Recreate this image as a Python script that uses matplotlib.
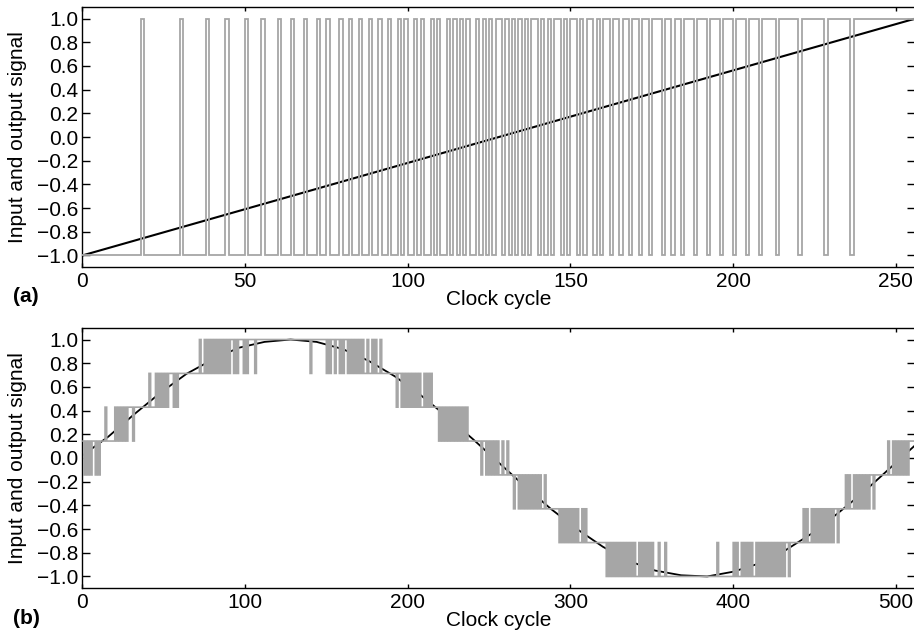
"""
Sigma-delta modulator demo chart.
(a) 1-bit output for a slow ramp input, (b) 3-bit output for one sine period.
"""

import matplotlib
matplotlib.use("Agg")
import matplotlib.pyplot as plt
import numpy as np


GREY = "#a6a6a6"
FONT = "Liberation Sans"
FS = 15

# ------------------- panel (a) data

ramp_cycles = [0, 256]
ramp_values = [-1.0, 1.0]
n_cycles_a = 256
half_a = 128

# cycles where the 1-bit output is at +1 while the ramp is below zero
ones_a = [18, 30, 38, 44, 50, 55, 60, 64, 68, 72, 75, 79, 82, 85, 88, 91,
          94, 97, 99, 102, 104, 107, 109, 112, 114, 116, 118, 121, 123,
          125, 127]
# cycles where the output drops to -1 once the ramp is above zero
zeros_a = [129, 131, 133, 135, 137, 140, 142, 144, 147, 149, 152, 154, 157,
           159, 162, 165, 168, 171, 174, 178, 181, 184, 188, 192, 196, 200,
           204, 208, 213, 220, 228, 236]

# ------------------- panel (b) data

sine_cycles = [0, 16, 32, 48, 64, 80, 96, 112, 128, 144, 160, 176, 192,
               208, 224, 240, 256, 272, 288, 304, 320, 336, 352, 368, 384,
               400, 416, 432, 448, 464, 480, 496, 512]
sine_values = [0.02, 0.18, 0.37, 0.55, 0.71, 0.83, 0.93, 0.98, 1.00, 0.98,
               0.92, 0.82, 0.69, 0.53, 0.35, 0.16, -0.04, -0.24, -0.43,
               -0.60, -0.75, -0.87, -0.95, -0.99, -1.00, -0.96, -0.89,
               -0.78, -0.64, -0.47, -0.29, -0.09, 0.11]

quant_levels = [-1.0, -0.714, -0.429, -0.143, 0.143, 0.429, 0.714, 1.0]

# quantiser level index (0..7) for every clock cycle
level_index_b = (
    "434343" "44" "3" "4" "3" "444" "5" "44444"                      # 0-19
    "5454545455" "5" "4" "555555555" "6"                             # 20-41
    "555" "6565656566" "6" "5" "6" "5" "6666666666666"               # 42-71
    "7" "66" "7" "6" "7" "6767676767" "6" "7" "6" "77" "6" "7" "6"   # 72-95
    "777" "6" "7" "6" "7777" "6"                                     # 96-106
    "7777777777" "7777777777" "7777777777" "777"                     # 107-139
    "6" "777777777" "6" "7" "6" "77" "6" "77" "6" "7" "6" "77" "6"   # 140-163
    "7" "676767676" "6" "7" "66" "7" "6" "7" "66" "7" "666666666"    # 164-192
    "5" "66" "5" "6" "5656565656" "55" "6" "5" "6" "5" "6" "5555"    # 193-218
    "4" "5" "4" "5" "454545454545" "4" "5" "44444444"                # 219-244
    "3" "44" "3" "4" "3434343" "3" "4" "33" "4" "333"                # 245-264
    "2" "33" "2" "3" "2323232323" "2" "3" "22" "3" "22222222"        # 265-292
    "1" "2" "1" "2121212121" "1" "2" "1" "2" "111111111111"          # 293-321
    "0101" "010101010101" "0" "1" "00" "1" "01010101" "000" "1"      # 322-354
    "000" "1" "0000000000" "0000000000" "0000000000" "0"             # 355-389
    "1" "000000000" "1" "0" "1" "00" "1" "0" "1" "0" "1" "0" "1"     # 390-411
    "00" "101010101010" "1" "0" "1" "0" "1" "0" "11" "0" "11111111"  # 412-442
    "2" "1" "2" "11" "2121212121" "2" "1" "2" "1" "22" "1" "2222"    # 443-468
    "3" "2" "3" "22" "3232323232" "33" "2" "33333333"                # 469-494
    "4" "33" "4" "3" "4" "3434343" "4444"                            # 495-511
)

yticks = [-1.0, -0.8, -0.6, -0.4, -0.2, 0.0, 0.2, 0.4, 0.6, 0.8, 1.0]
xticks_a = [0, 50, 100, 150, 200, 250]
xticks_b = [0, 100, 200, 300, 400, 500]


def output_a():
    """Expand the pulse lists into one value per clock cycle."""
    out = []
    for n in range(n_cycles_a):
        if n < half_a:
            out.append(1.0 if n in ones_a else -1.0)
        else:
            out.append(-1.0 if n in zeros_a else 1.0)
    return out


def output_b():
    return [quant_levels[int(ch)] for ch in level_index_b]


def style_axes(ax, xticks, xmax):
    ax.set_xlim(0, xmax)
    ax.set_ylim(-1.1, 1.1)
    ax.set_xticks(xticks)
    ax.set_yticks(yticks)
    ax.set_yticklabels([f"{v:.1f}".replace("-", "\u2212") for v in yticks])
    ax.tick_params(direction="in", top=True, right=True, labelsize=FS,
                   width=1.0, color="black")
    ax.tick_params(axis="y", length=5.5, pad=3)
    ax.tick_params(axis="x", length=3, pad=3.5)
    for sp in ax.spines.values():
        sp.set_linewidth(1.0)
    ax.set_xlabel("Clock cycle", fontsize=FS)
    ax.set_ylabel("Input and output signal", fontsize=FS)
    ax.xaxis.set_label_coords(0.5, -0.088)
    ax.yaxis.set_label_coords(-0.066, 0.5)


def main():
    plt.rcParams["font.family"] = [FONT, "DejaVu Sans"]

    fig = plt.figure(figsize=(9.14, 6.38), dpi=100)
    ax_a = fig.add_axes([0.0900, 0.581, 0.9116, 0.4085])
    ax_b = fig.add_axes([0.0900, 0.0779, 0.9116, 0.4085])

    # (a) ramp input and 1-bit output
    out_a = output_a()
    ax_a.plot(ramp_cycles, ramp_values, color="black", linewidth=1.5,
              zorder=2)
    ax_a.stairs(out_a, np.arange(len(out_a) + 1), baseline=None,
                color=GREY, linewidth=1.3, zorder=3)
    style_axes(ax_a, xticks_a, n_cycles_a)

    # (b) sine input and multi-level output
    out_b = output_b()
    ax_b.plot(sine_cycles, sine_values, color="black", linewidth=1.3,
              zorder=2)
    ax_b.stairs(out_b, np.arange(len(out_b) + 1), baseline=None,
                color=GREY, linewidth=1.2, zorder=3)
    style_axes(ax_b, xticks_b, 512)

    fig.text(0.0142, 0.527, "(a)", fontsize=FS, fontweight="bold",
             va="baseline", ha="left")
    fig.text(0.0142, 0.022, "(b)", fontsize=FS, fontweight="bold",
             va="baseline", ha="left")

    fig.savefig("out.png", dpi=100)
    plt.close(fig)


if __name__ == "__main__":
    main()
